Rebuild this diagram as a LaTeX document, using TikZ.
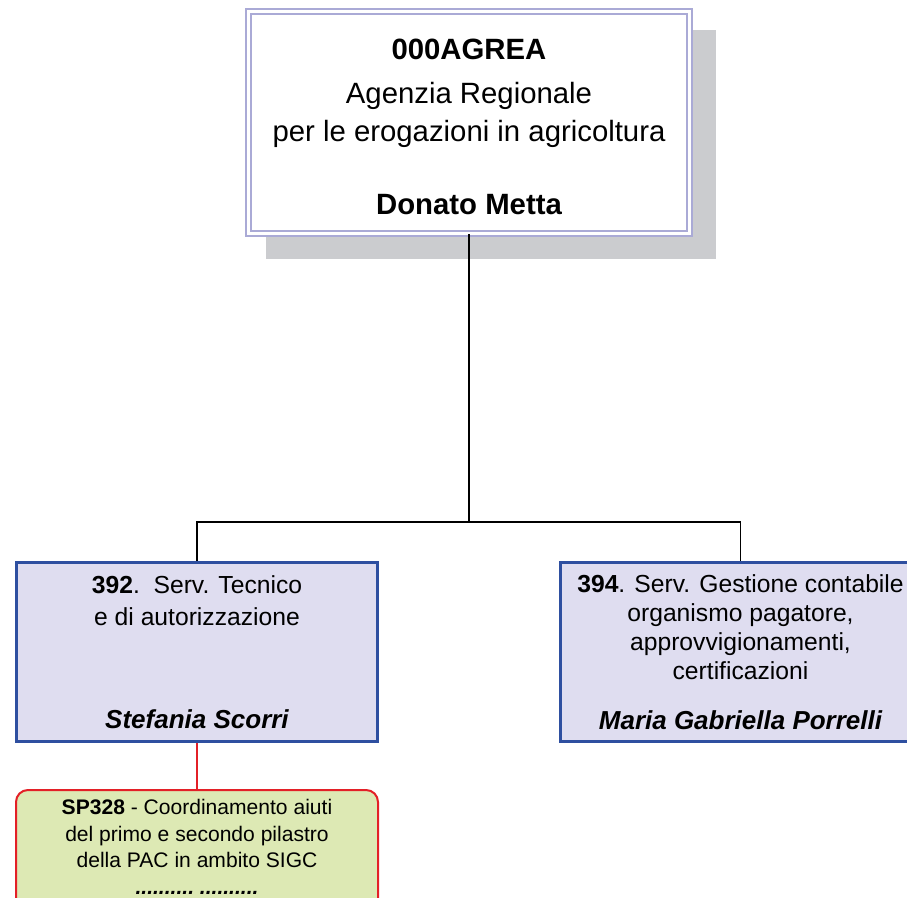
\documentclass[tikz,border=0pt]{standalone}
\usepackage{fontspec}
\setmainfont{Liberation Sans}
\usepackage{xcolor}

\definecolor{headlav}{RGB}{170,170,214}
\definecolor{shadowgray}{RGB}{203,204,207}
\definecolor{unitfill}{RGB}{223,221,240}
\definecolor{unitblue}{RGB}{46,79,160}
\definecolor{postgreen}{RGB}{221,233,180}
\definecolor{postred}{RGB}{227,32,39}

\tikzset{
  headbox/.style={draw=headlav, double=white, line width=1.5pt, double distance=2.25pt,
    fill=white, minimum width=330.75pt, minimum height=166.5pt, inner sep=0pt,
    align=center, font=\fontsize{22}{28.5}\selectfont},
  unitbox/.style={draw=unitblue, line width=2.25pt, fill=unitfill,
    minimum width=270.75pt, minimum height=134.25pt, inner sep=0pt, align=center},
  postbox/.style={draw=postred, line width=1.5pt, fill=postgreen, rounded corners=9pt,
    minimum width=271.5pt, inner sep=7pt, text depth=25pt, align=center,
    font=\fontsize{15.8}{20}\selectfont},
  link/.style={line width=1.1pt},
}

\begin{document}
\begin{tikzpicture}[x=0.75pt,y=0.75pt,yscale=-1,xscale=1]
\path[use as bounding box, clip] (0,0) rectangle (907,898);

%Shape: shadow of the head box
\fill[shadowgray] (266,30) rectangle (716,259);

% Head node
\node[headbox] (agrea) at (469,122.5) {\rule{0pt}{21.5pt}{\bfseries 000AGREA}\\[4.5pt]
  Agenzia Regionale\\
  per le erogazioni in agricoltura\\[26.5pt]
  {\bfseries Donato Metta}};

% Service nodes
\node[unitbox, font=\fontsize{18.5}{24}\selectfont] (serv392) at (197,652) {{\bfseries 392}.\ \ Serv. Tecnico\\
  e di autorizzazione\\[53.25pt]
  {\fontsize{19.5}{24}\selectfont\bfseries\itshape Stefania Scorri}};
\node[unitbox, font=\fontsize{18.5}{21.75}\selectfont] (serv394) at (740.5,652) {{\bfseries 394}. Serv. Gestione contabile\\
  organismo pagatore,\\
  approvvigionamenti,\\
  certificazioni\\[15.75pt]
  {\fontsize{19.5}{24}\selectfont\bfseries\itshape Maria Gabriella Porrelli}};

% Post node
\node[postbox, anchor=north] (sp328) at (197,789) {{\bfseries SP328} - Coordinamento aiuti\\
  del primo e secondo pilastro\\
  della PAC in ambito SIGC\\
  {\bfseries\itshape ..........\ ..........}};

% Connectors
\coordinate (fork) at (469,522);
\draw[link] (agrea.south) -- (fork);
\draw[link] (fork) -| (serv392.north);
\draw[link] (fork) -| (serv394.north);
\draw[link, draw=postred] (serv392.south) -- (sp328.north);

\end{tikzpicture}
\end{document}
